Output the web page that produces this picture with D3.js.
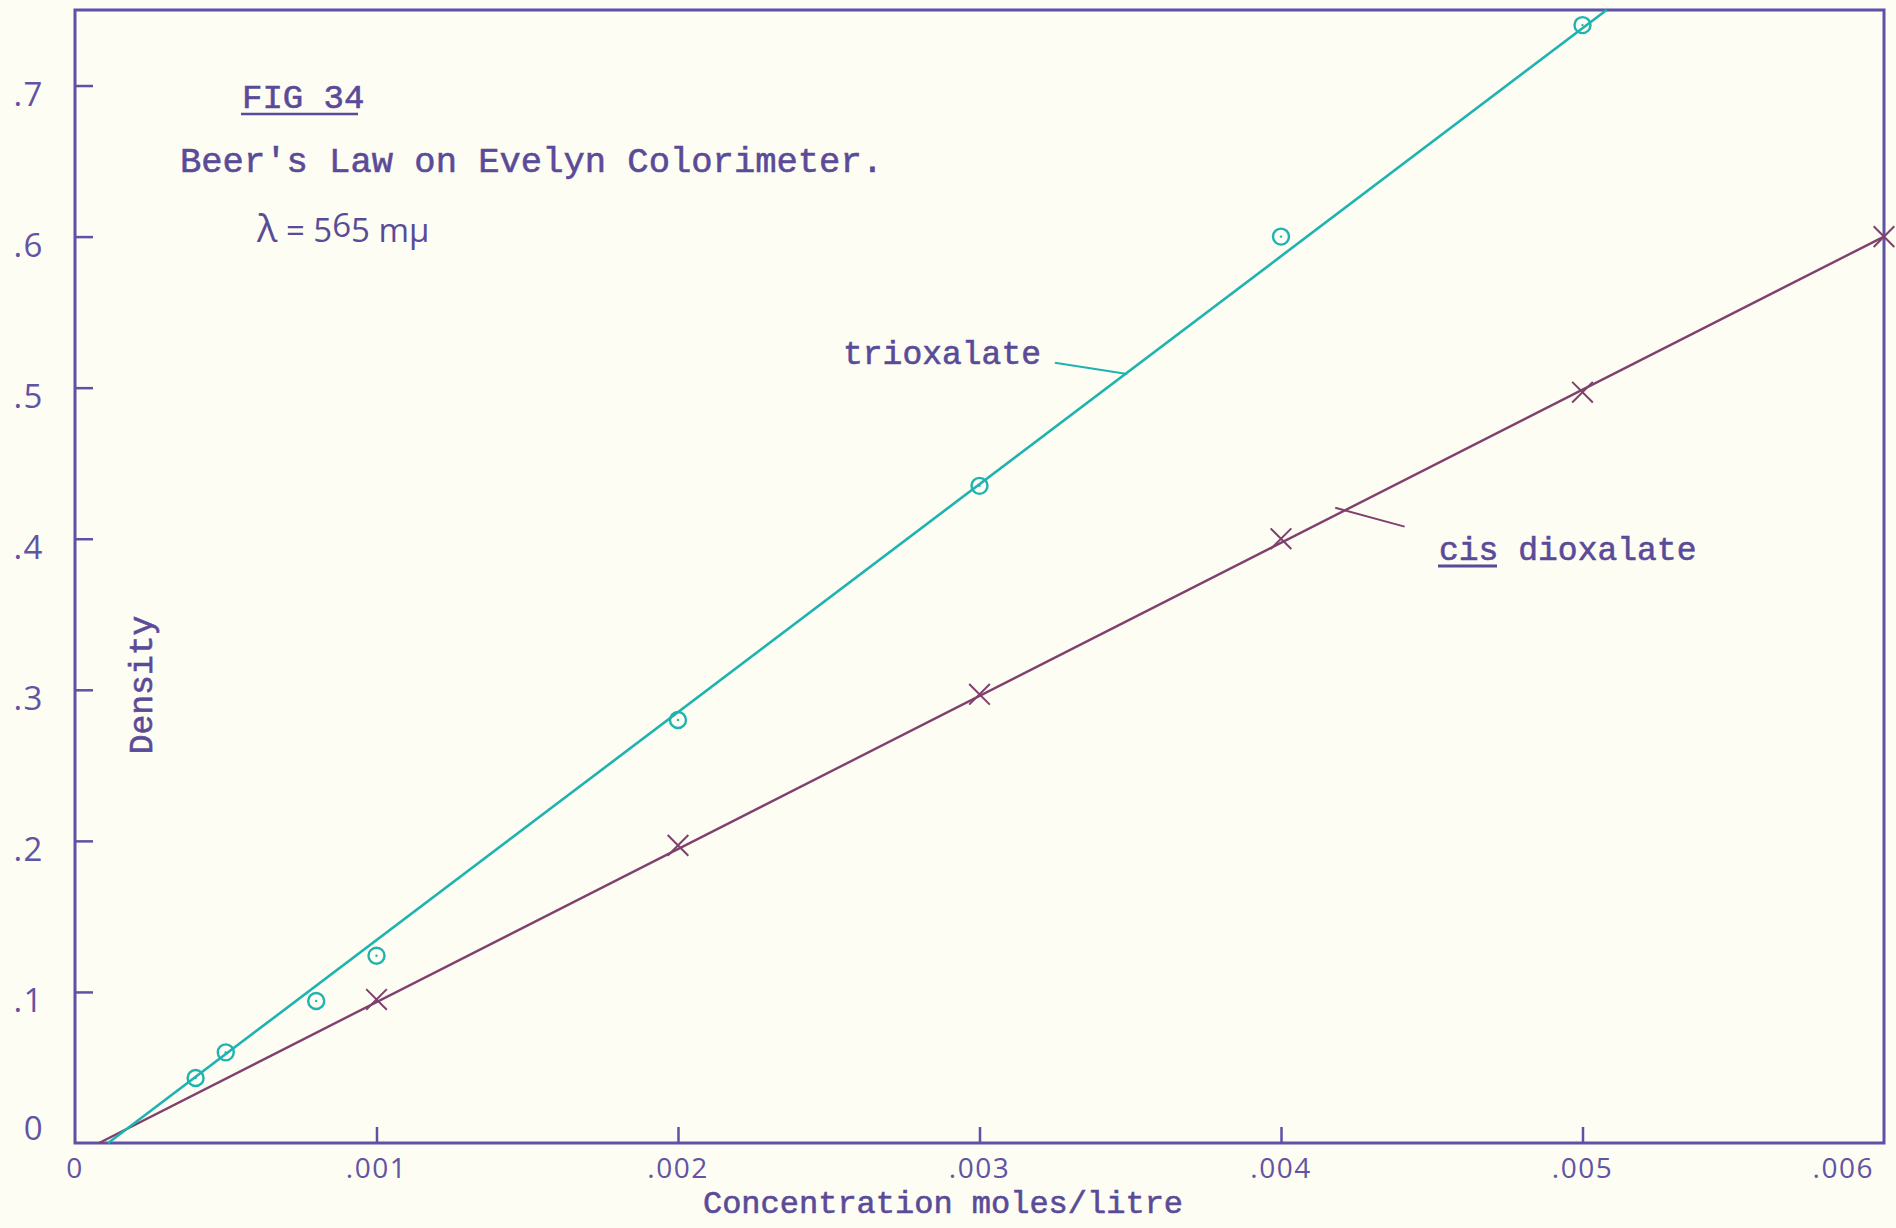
<!DOCTYPE html>
<html>
<head>
<meta charset="utf-8">
<script src="https://cdn.jsdelivr.net/npm/d3@7"></script>
<style>
  html, body { margin: 0; padding: 0; background: #fdfdf3; }
  svg { display: block; }
  .typed { font-family: "Liberation Mono", "Courier New", monospace; fill: #5a4b98; stroke: #5a4b98; stroke-width: 0.6px; }
  .tick-label { font-family: "Open Sans", "DejaVu Sans", sans-serif; fill: #6253a3; letter-spacing: 1.5px; }
</style>
</head>
<body>
<script>
// Beer's law calibration: optical density against concentration (moles/litre)
const trioxConc    = [0.0004, 0.0005, 0.0008, 0.001, 0.002, 0.003, 0.004, 0.005];
const trioxDensity = [0.043, 0.060, 0.094, 0.124, 0.280, 0.435, 0.600, 0.740];

const cisConc    = [0.001, 0.002, 0.003, 0.004, 0.005, 0.006];
const cisDensity = [0.095, 0.197, 0.297, 0.400, 0.497, 0.600];

// Hand-drawn straight lines through each series (start and end, in data units)
const trioxFitConc    = [0.00011, 0.00508];
const trioxFitDensity = [0.0, 0.75];
const cisFitConc    = [0.00008, 0.006];
const cisFitDensity = [0.0, 0.600];

// Axis ticks and their labels
const xTicks = [0, 0.001, 0.002, 0.003, 0.004, 0.005, 0.006];
const xTickLabels = ["0", ".001", ".002", ".003", ".004", ".005", ".006"];
const yTicks = [0, 0.1, 0.2, 0.3, 0.4, 0.5, 0.6, 0.7];
const yTickLabels = ["0", ".1", ".2", ".3", ".4", ".5", ".6", ".7"];

const W = 1896, H = 1228;
const margin = { left: 75, right: 12, top: 10, bottom: 85 };

const ink = "#5a4b98";
const frameColor = "#5f51a6";
const cyan = "#1fb3b0";
const plum = "#80406e";

const svg = d3.select("body").append("svg")
  .attr("width", W).attr("height", H);

svg.append("rect").attr("width", W).attr("height", H).attr("fill", "#fdfdf3");

const x = d3.scaleLinear().domain([0, 0.006]).range([margin.left, W - margin.right]);
const y = d3.scaleLinear().domain([0, 0.75]).range([H - margin.bottom, margin.top]);

// Frame
svg.append("rect")
  .attr("x", x(0)).attr("y", y(0.75))
  .attr("width", x(0.006) - x(0)).attr("height", y(0) - y(0.75))
  .attr("fill", "none").attr("stroke", frameColor).attr("stroke-width", 3);

// Inward ticks on the bottom axis
const xAxis = d3.axisTop(x).tickValues(xTicks.slice(1, -1)).tickSize(16).tickFormat("");
svg.append("g").attr("transform", `translate(0,${y(0)})`).call(xAxis)
  .call(g => g.select(".domain").remove())
  .call(g => g.selectAll("line").attr("stroke", frameColor).attr("stroke-width", 2.5));

// Inward ticks on the left axis
const yAxis = d3.axisRight(y).tickValues(yTicks.slice(1)).tickSize(18).tickFormat("");
svg.append("g").attr("transform", `translate(${x(0)},0)`).call(yAxis)
  .call(g => g.select(".domain").remove())
  .call(g => g.selectAll("line").attr("stroke", frameColor).attr("stroke-width", 2.5));

// Tick labels
svg.append("g").selectAll("text").data(xTicks).join("text")
  .attr("class", "tick-label")
  .attr("x", (d, i) => x(d) + (i === xTicks.length - 1 ? -10 : 0))
  .attr("y", y(0) + 35)
  .attr("text-anchor", (d, i) => i === xTicks.length - 1 ? "end" : "middle")
  .attr("font-size", 28)
  .text((d, i) => xTickLabels[i]);

svg.append("g").selectAll("text").data(yTicks).join("text")
  .attr("class", "tick-label")
  .attr("x", 44)
  .attr("y", (d, i) => y(d) + (i === 0 ? -3 : 20))
  .attr("text-anchor", "end")
  .attr("font-size", 33)
  .text((d, i) => yTickLabels[i]);

// Fitted lines
const line = d3.line().x(d => x(d[0])).y(d => y(d[1]));
svg.append("path")
  .datum(d3.zip(cisFitConc, cisFitDensity))
  .attr("d", line).attr("fill", "none")
  .attr("stroke", plum).attr("stroke-width", 2.4);
svg.append("path")
  .datum(d3.zip(trioxFitConc, trioxFitDensity))
  .attr("d", line).attr("fill", "none")
  .attr("stroke", cyan).attr("stroke-width", 2.6);

// Trioxalate points: open circles with a centre dot
const trioxPts = d3.zip(trioxConc, trioxDensity);
const tg = svg.append("g");
tg.selectAll("circle.o").data(trioxPts).join("circle")
  .attr("class", "o")
  .attr("cx", d => x(d[0])).attr("cy", d => y(d[1])).attr("r", 8)
  .attr("fill", "none").attr("stroke", cyan).attr("stroke-width", 2.4);
tg.selectAll("circle.c").data(trioxPts).join("circle")
  .attr("class", "c")
  .attr("cx", d => x(d[0])).attr("cy", d => y(d[1])).attr("r", 1.2)
  .attr("fill", cyan);

// cis dioxalate points: crosses
const cross = d3.symbol().type(d3.symbolX).size(280);
svg.append("g").selectAll("path").data(d3.zip(cisConc, cisDensity)).join("path")
  .attr("transform", d => `translate(${x(d[0])},${y(d[1])})`)
  .attr("d", cross)
  .attr("fill", "none").attr("stroke", plum).attr("stroke-width", 2);

// Series labels with leader lines (leaders start on the fitted lines)
const trioxLeader = [[0.00325, 0.5165], [0.00349, 0.509]];
const cisLeader = [[0.00418, 0.4205], [0.00441, 0.408]];
svg.append("path").datum(trioxLeader).attr("d", line)
  .attr("fill", "none").attr("stroke", cyan).attr("stroke-width", 2);
svg.append("path").datum(cisLeader).attr("d", line)
  .attr("fill", "none").attr("stroke", plum).attr("stroke-width", 2);

svg.append("text").attr("class", "typed")
  .attr("x", 843).attr("y", 364).attr("font-size", 33)
  .text("trioxalate");

const cisText = svg.append("text").attr("class", "typed")
  .attr("x", 1439).attr("y", 560).attr("font-size", 33);
cisText.append("tspan").text("cis");
cisText.append("tspan").text(" dioxalate");
svg.append("line")
  .attr("x1", 1438).attr("x2", 1497).attr("y1", 566).attr("y2", 566)
  .attr("stroke", ink).attr("stroke-width", 3);

// Title block
svg.append("text").attr("class", "typed")
  .attr("x", 242).attr("y", 108).attr("font-size", 34)
  .text("FIG  34");
svg.append("line")
  .attr("x1", 241).attr("x2", 358).attr("y1", 114).attr("y2", 114)
  .attr("stroke", ink).attr("stroke-width", 2.5);

svg.append("text").attr("class", "typed")
  .attr("x", 180).attr("y", 172).attr("font-size", 35.5)
  .text("Beer's Law on Evelyn Colorimeter.");

const lam = svg.append("text")
  .attr("x", 257).attr("y", 242)
  .attr("font-family", "Open Sans, DejaVu Sans, sans-serif")
  .attr("font-size", 33).attr("fill", ink);
lam.append("tspan").attr("font-size", 38).text("\u03bb");
lam.append("tspan").text(" = 5");
lam.append("tspan").attr("dy", -5).text("6");
lam.append("tspan").attr("dy", 5).text("5 m\u03bc");

// Axis titles
svg.append("text").attr("class", "typed")
  .attr("transform", `translate(152,${685}) rotate(-90)`)
  .attr("text-anchor", "middle").attr("font-size", 33)
  .text("Density");

svg.append("text").attr("class", "typed")
  .attr("x", 943).attr("y", 1213).attr("text-anchor", "middle").attr("font-size", 32)
  .text("Concentration moles/litre");
</script>
</body>
</html>
